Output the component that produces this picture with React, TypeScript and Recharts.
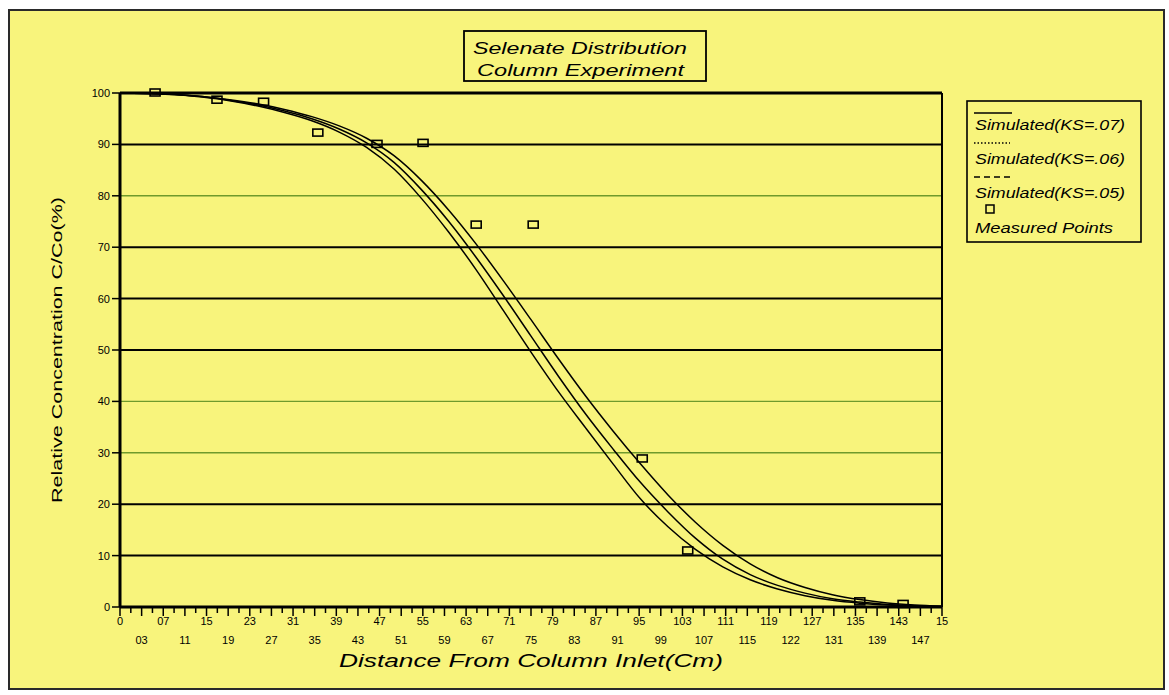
import React from 'react';
import { ComposedChart, Line, Scatter, XAxis, YAxis, ReferenceLine } from 'recharts';

// distance from inlet (cm) where the simulated curves are sampled
const curveX = [0, 5, 10, 15, 20, 25, 30, 35, 40, 45, 50, 55, 60, 65, 70, 75, 80, 85, 90, 95, 100, 105, 110, 115, 120, 125, 130, 135, 140, 145, 150];
const simKs07 = [100, 99.9, 99.7, 99.2, 98.5, 97.5, 96.2, 94.6, 92.4, 89.4, 85.2, 79.5, 72.9, 65.6, 57.6, 49.6, 41.9, 34.8, 27.8, 21.0, 15.6, 11.2, 7.8, 5.3, 3.5, 2.2, 1.3, 0.75, 0.4, 0.2, 0.08];
const simKs06 = [100, 99.9, 99.7, 99.3, 98.6, 97.7, 96.5, 95.0, 93.0, 90.3, 86.5, 81.2, 75.0, 68.0, 60.5, 52.7, 44.9, 37.5, 30.7, 24.2, 18.5, 13.4, 9.3, 6.3, 4.2, 2.7, 1.6, 0.95, 0.5, 0.25, 0.1];
const simKs05 = [100, 99.9, 99.7, 99.3, 98.7, 97.9, 96.8, 95.4, 93.6, 91.2, 87.8, 83.0, 77.2, 70.6, 63.4, 55.9, 48.3, 41.0, 34.2, 27.8, 21.8, 16.5, 12.0, 8.4, 5.7, 3.8, 2.4, 1.45, 0.8, 0.4, 0.15];

// measured points
const measuredX = [6.4, 17.7, 26.2, 36.1, 46.9, 55.3, 65.0, 75.4, 95.3, 103.6, 135.0, 142.9];
const measuredY = [100, 98.6, 98.2, 92.2, 90.0, 90.2, 74.3, 74.3, 28.8, 10.9, 1.0, 0.5];

const xTickLabels = ['0', '03', '07', '11', '15', '19', '23', '27', '31', '35', '39', '43', '47', '51', '55', '59', '63', '67', '71', '75', '79', '83', '87', '91', '95', '99', '103', '107', '111', '115', '119', '122', '127', '131', '135', '139', '143', '147', '15'];
const yTicks = [0, 10, 20, 30, 40, 50, 60, 70, 80, 90, 100];
const gridLevels = [10, 20, 30, 40, 50, 60, 70, 80, 90];
const greenLevels = [30, 40, 80];

const legendItems = ['Simulated(KS=.07)', 'Simulated(KS=.06)', 'Simulated(KS=.05)', 'Measured Points'];

const FONT = '"Liberation Sans", Arial, sans-serif';
const YELLOW = '#f8f47c';

const curveData = curveX.map((x, i) => ({ x, a: simKs07[i], b: simKs06[i], c: simKs05[i] }));
const measuredData = measuredX.map((x, i) => ({ x, y: measuredY[i] }));

const X_MAX = 150;
// labelled ticks plus a minor tick halfway between each
const xTickValues = Array.from({ length: xTickLabels.length * 2 - 1 }, (_, i) => (i * X_MAX) / ((xTickLabels.length - 1) * 2));

const XTick = (props: any) => {
  const { x, y, index } = props;
  const major = index % 2 === 0;
  const j = index / 2;
  return (
    <g>
      <line x1={x} x2={x} y1={y} y2={y + (major ? 9 : 6)} stroke="#000" strokeWidth={1.5} />
      {major && (
        <text x={x} y={y + (j % 2 === 0 ? 18 : 37)} textAnchor="middle" fontSize={11} fontFamily={FONT} fill="#000">
          {xTickLabels[j]}
        </text>
      )}
    </g>
  );
};

const YTitle = (props: any) => {
  const { viewBox } = props;
  const cx = viewBox.x - 4;
  const cy = viewBox.y + viewBox.height / 2;
  return (
    <text x={cx} y={cy} transform={`rotate(-90 ${cx} ${cy})`} textAnchor="middle" dominantBaseline="central"
      fontSize={15} fontFamily={FONT} fill="#000" textLength={306} lengthAdjust="spacingAndGlyphs">
      Relative Concentration C/Co(%)
    </text>
  );
};

const XTitle = (props: any) => {
  const { viewBox } = props;
  const cx = viewBox.x + viewBox.width / 2;
  return (
    <text x={cx} y={viewBox.y + 60} textAnchor="middle" fontSize={18} fontStyle="italic" fontFamily={FONT}
      fill="#000" textLength={384} lengthAdjust="spacingAndGlyphs">
      Distance From Column Inlet(Cm)
    </text>
  );
};

const MeasuredSquare = (props: any) => {
  const { cx, cy } = props;
  return <rect x={cx - 5} y={cy - 4} width={10} height={7} fill="none" stroke="#000" strokeWidth={1.6} />;
};

const TitleBox = () => (
  <svg width={246} height={54} style={{ position: 'absolute', left: 462, top: 29 }}>
    <rect x={2} y={2} width={242} height={50} fill={YELLOW} stroke="#000" strokeWidth={1.8} />
    <text x={11} y={25} fontSize={17} fontStyle="italic" fontFamily={FONT} fill="#000" textLength={214} lengthAdjust="spacingAndGlyphs">
      Selenate Distribution
    </text>
    <text x={15} y={47} fontSize={17} fontStyle="italic" fontFamily={FONT} fill="#000" textLength={207} lengthAdjust="spacingAndGlyphs">
      Column Experiment
    </text>
  </svg>
);

const LegendBox = () => (
  <svg width={178} height={145} style={{ position: 'absolute', left: 965, top: 99 }}>
    <rect x={2} y={2} width={174} height={141} fill={YELLOW} stroke="#000" strokeWidth={1.6} />
    <line x1={9} x2={47} y1={14} y2={14} stroke="#000" strokeWidth={1.6} />
    <line x1={9} x2={45} y1={44} y2={44} stroke="#000" strokeWidth={1.4} strokeDasharray="1.5 2" />
    <line x1={9} x2={45} y1={78} y2={78} stroke="#000" strokeWidth={1.6} strokeDasharray="6 4" />
    <rect x={21} y={106} width={8} height={8} fill="none" stroke="#000" strokeWidth={1.5} />
    {legendItems.map((t, i) => (
      <text key={t} x={10} y={[31, 65, 99, 134][i]} fontSize={15} fontStyle="italic" fontFamily={FONT} fill="#000"
        textLength={i < 3 ? 150 : 138} lengthAdjust="spacingAndGlyphs">
        {t}
      </text>
    ))}
  </svg>
);

export default function App() {
  return (
    <div style={{ position: 'absolute', left: 0, top: 0, width: 1169, height: 695, background: '#fff' }}>
      <div style={{ position: 'absolute', left: 8, top: 9, width: 1153, height: 677, background: YELLOW, border: '2px solid #2a2a2a' }} />
      <div style={{ position: 'absolute', left: 0, top: 0 }}>
        <ComposedChart width={1169} height={695} data={curveData} margin={{ top: 93, right: 227, bottom: 28, left: 60 }}>
          <XAxis type="number" dataKey="x" domain={[0, X_MAX]} ticks={xTickValues} interval={0} tick={<XTick />}
            tickLine={false} tickSize={0} tickMargin={0} height={60} axisLine={{ stroke: '#000', strokeWidth: 3 }}
            allowDataOverflow label={<XTitle />} />
          <YAxis type="number" domain={[0, 100]} ticks={yTicks} interval={0} width={60} tickSize={8} tickMargin={2}
            tick={{ fontSize: 11, fill: '#000', fontFamily: FONT }} tickLine={{ stroke: '#000', strokeWidth: 1.5 }}
            axisLine={{ stroke: '#000', strokeWidth: 3 }} label={<YTitle />} />
          {gridLevels.map((v) => (
            <ReferenceLine key={v} y={v} stroke={greenLevels.includes(v) ? '#6f9a2c' : '#000'}
              strokeWidth={greenLevels.includes(v) ? 1.4 : 2} />
          ))}
          <ReferenceLine y={100} stroke="#000" strokeWidth={3} />
          <ReferenceLine x={X_MAX} stroke="#000" strokeWidth={2} />
          <Line type="monotone" dataKey="a" stroke="#000" strokeWidth={1.5} dot={false} isAnimationActive={false} />
          <Line type="monotone" dataKey="b" stroke="#000" strokeWidth={1.5} dot={false} isAnimationActive={false} />
          <Line type="monotone" dataKey="c" stroke="#000" strokeWidth={1.5} dot={false} isAnimationActive={false} />
          <Scatter data={measuredData} dataKey="y" shape={<MeasuredSquare />} isAnimationActive={false} />
        </ComposedChart>
      </div>
      <TitleBox />
      <LegendBox />
    </div>
  );
}
